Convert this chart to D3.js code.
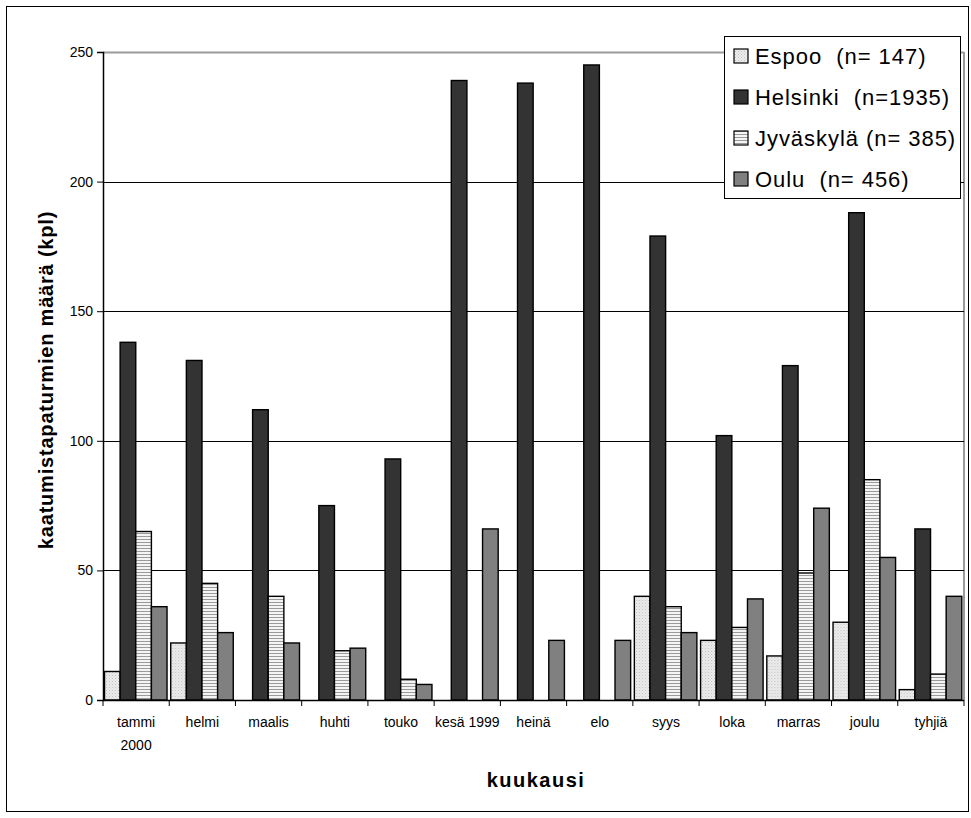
<!DOCTYPE html>
<html>
<head>
<meta charset="utf-8">
<script src="https://cdn.jsdelivr.net/npm/d3@7"></script>
<style>
  html, body { margin: 0; padding: 0; background: #fff; }
  svg { display: block; font-family: "Liberation Sans", Arial, sans-serif; }
  .pre { white-space: pre; }
</style>
</head>
<body>
<svg id="chart" width="971" height="818"></svg>
<script>
// ---- data ----
const months = ["tammi 2000", "helmi", "maalis", "huhti", "touko", "kesä 1999", "heinä", "elo", "syys", "loka", "marras", "joulu", "tyhjiä"];
const monthLabelLines = [["tammi", "2000"], ["helmi"], ["maalis"], ["huhti"], ["touko"], ["kesä 1999"], ["heinä"], ["elo"], ["syys"], ["loka"], ["marras"], ["joulu"], ["tyhjiä"]];
const espoo     = [11, 22, 0, 0, 0, 0, 0, 0, 40, 23, 17, 30, 4];
const helsinki  = [138, 131, 112, 75, 93, 239, 238, 245, 179, 102, 129, 188, 66];
const jyvaskyla = [65, 45, 40, 19, 8, 0, 0, 0, 36, 28, 49, 85, 10];
const oulu      = [36, 26, 22, 20, 6, 66, 23, 23, 26, 39, 74, 55, 40];
const seriesNames = ["Espoo  (n= 147)", "Helsinki  (n=1935)", "Jyväskylä (n= 385)", "Oulu  (n= 456)"];
const yTicks = [0, 50, 100, 150, 200, 250];
const yTitle = "kaatumistapaturmien määrä (kpl)";
const xTitle = "kuukausi";

const seriesValues = [espoo, helsinki, jyvaskyla, oulu];

// ---- layout ----
const svg = d3.select("#chart");
const plot = { left: 103, right: 964, top: 52, bottom: 700 };

// outer border
svg.append("rect").attr("x", 6.5).attr("y", 6.5).attr("width", 962).attr("height", 805)
  .attr("fill", "#fff").attr("stroke", "#000").attr("stroke-width", 1);

// patterns
const defs = svg.append("defs");
const pDot = defs.append("pattern").attr("id", "pEspoo").attr("patternUnits", "userSpaceOnUse")
  .attr("width", 3).attr("height", 3);
pDot.append("rect").attr("width", 3).attr("height", 3).attr("fill", "#ececec");
pDot.append("rect").attr("x", 0).attr("y", 0).attr("width", 1).attr("height", 1).attr("fill", "#c0c0c0");
pDot.append("rect").attr("x", 1.5).attr("y", 1.5).attr("width", 1).attr("height", 1).attr("fill", "#d0d0d0");

const pLine = defs.append("pattern").attr("id", "pJyv").attr("patternUnits", "userSpaceOnUse")
  .attr("width", 4).attr("height", 3);
pLine.append("rect").attr("width", 4).attr("height", 3).attr("fill", "#f4f4f4");
pLine.append("rect").attr("x", 0).attr("y", 2).attr("width", 4).attr("height", 1).attr("fill", "#9a9a9a");

const fills = ["url(#pEspoo)", "#333333", "url(#pJyv)", "#808080"];

// scales
const x0 = d3.scaleBand().domain(months).range([plot.left, plot.right]).paddingInner(0).paddingOuter(0);
const x1 = d3.scaleBand().domain(d3.range(4)).range([1.5, x0.bandwidth() - 2.2]).padding(0);
const y = d3.scaleLinear().domain([0, 250]).range([plot.bottom, plot.top]);

// plot area border (gray top/right)
svg.append("line").attr("x1", plot.left).attr("x2", plot.right).attr("y1", plot.top + 0.5).attr("y2", plot.top + 0.5)
  .attr("stroke", "#9a9a9a").attr("stroke-width", 2);
svg.append("line").attr("x1", plot.right).attr("x2", plot.right).attr("y1", plot.top).attr("y2", plot.bottom)
  .attr("stroke", "#9a9a9a").attr("stroke-width", 2);

// gridlines
svg.append("g").selectAll("line").data(yTicks.filter(d => d > 0 && d < 250)).join("line")
  .attr("x1", plot.left).attr("x2", plot.right)
  .attr("y1", d => Math.round(y(d)) + 0.5).attr("y2", d => Math.round(y(d)) + 0.5)
  .attr("stroke", "#000").attr("stroke-width", 1);

// bars
const groups = svg.append("g").selectAll("g").data(months).join("g")
  .attr("transform", d => `translate(${x0(d)},0)`);
groups.selectAll("rect").data((m, i) => seriesValues.map((s, k) => ({ k, v: s[i] })).filter(d => d.v > 0))
  .join("rect")
  .attr("x", d => x1(d.k))
  .attr("y", d => y(d.v))
  .attr("width", x1.bandwidth())
  .attr("height", d => y(0) - y(d.v))
  .attr("fill", d => fills[d.k])
  .attr("stroke", "#000").attr("stroke-width", 1.4);

// y axis
const yAxis = d3.axisLeft(y).tickValues(yTicks).tickSize(6).tickPadding(4);
const gy = svg.append("g").attr("transform", `translate(${plot.left},0)`).call(yAxis);
gy.select(".domain").attr("stroke", "#000").attr("stroke-width", 1.5);
gy.selectAll(".tick line").attr("stroke", "#000");
gy.selectAll(".tick text").attr("font-size", 14).attr("fill", "#000")
  .attr("font-family", "'Liberation Sans', Arial, sans-serif");

// x axis
const gx = svg.append("g").attr("transform", `translate(0,${plot.bottom})`);
gx.append("line").attr("x1", plot.left).attr("x2", plot.right).attr("y1", 0.5).attr("y2", 0.5)
  .attr("stroke", "#000").attr("stroke-width", 1.5);
const tickXs = months.map(m => x0(m)).concat([plot.right]);
gx.selectAll("line.tk").data(tickXs).join("line").attr("class", "tk")
  .attr("x1", d => d).attr("x2", d => d).attr("y1", 0).attr("y2", 6)
  .attr("stroke", "#000").attr("stroke-width", 1);
months.forEach((m, i) => {
  const cx = x0(m) + x0.bandwidth() / 2;
  const t = gx.append("text").attr("text-anchor", "middle").attr("font-size", 14).attr("fill", "#000")
    .attr("x", cx).attr("y", 27);
  monthLabelLines[i].forEach((line, j) => {
    t.append("tspan").attr("x", cx).attr("dy", j === 0 ? 0 : 23).text(line);
  });
});

// axis titles
svg.append("text").attr("transform", `translate(53,${(plot.top + plot.bottom) / 2 + 4}) rotate(-90)`)
  .attr("text-anchor", "middle").attr("font-size", 20).attr("font-weight", "bold")
  .attr("letter-spacing", 0.8).text(yTitle);
svg.append("text").attr("x", 536).attr("y", 787).attr("text-anchor", "middle")
  .attr("font-size", 20).attr("font-weight", "bold").attr("letter-spacing", 1.5).text(xTitle);

// legend
const lg = svg.append("g");
lg.append("rect").attr("x", 724.5).attr("y", 36.5).attr("width", 236).attr("height", 162)
  .attr("fill", "#fff").attr("stroke", "#000").attr("stroke-width", 1);
seriesNames.forEach((name, k) => {
  const cy = 56 + k * 41;
  lg.append("rect").attr("x", 734).attr("y", cy - 7).attr("width", 14).attr("height", 14)
    .attr("fill", fills[k]).attr("stroke", "#000").attr("stroke-width", 1.2);
  lg.append("text").attr("class", "pre").attr("x", 755).attr("y", cy + 8)
    .attr("font-size", 22).attr("letter-spacing", 0.95).attr("fill", "#000").text(name);
});
</script>
</body>
</html>
